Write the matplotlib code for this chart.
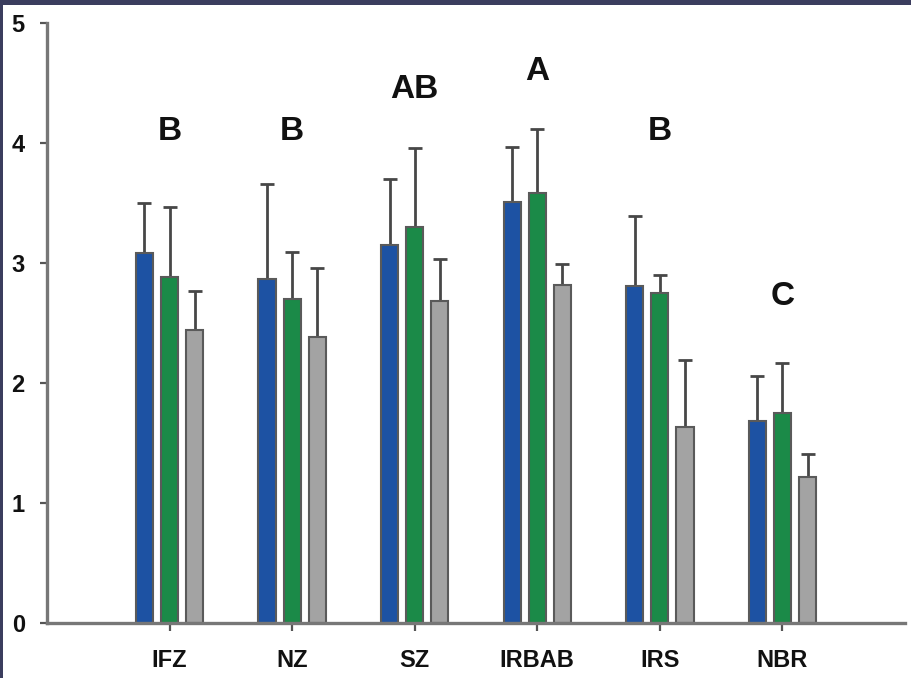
import numpy as np
import matplotlib.pyplot as plt
from matplotlib.patches import Rectangle

plt.rcParams['font.family'] = ['Liberation Sans', 'DejaVu Sans']

# Sites and the three series (means and upper error bar tips)
sites = ['IFZ', 'NZ', 'SZ', 'IRBAB', 'IRS', 'NBR']
blue_vals = [3.08, 2.87, 3.15, 3.51, 2.81, 1.68]
blue_tops = [3.50, 3.66, 3.70, 3.97, 3.39, 2.06]
green_vals = [2.88, 2.70, 3.30, 3.58, 2.75, 1.75]
green_tops = [3.47, 3.09, 3.96, 4.12, 2.90, 2.17]
gray_vals = [2.44, 2.38, 2.68, 2.82, 1.63, 1.22]
gray_tops = [2.77, 2.96, 3.03, 2.99, 2.19, 1.41]

# Significance letters
letters = ['B', 'B', 'AB', 'A', 'B', 'C']
letter_y = [4.10, 4.10, 4.45, 4.60, 4.10, 2.72]

fig = plt.figure(figsize=(9.12, 6.78), dpi=100)
fig.patch.set_facecolor('#3b3d5e')
# white page inside the dark frame
fig.patches.append(Rectangle((3 / 912, 0), 1, 1 - 5 / 678, transform=fig.transFigure,
                             facecolor='white', edgecolor='none', zorder=-5))

ax = fig.add_axes([47 / 912, 55 / 678, 858 / 912, 600 / 678])
ax.set_facecolor('white')

x = np.arange(len(sites))
w = 0.139
off = 0.205
series = [
    (blue_vals, blue_tops, '#1d52a3'),
    (green_vals, green_tops, '#1b8a48'),
    (gray_vals, gray_tops, '#a3a3a3'),
]
for k, (vals, tops, col) in enumerate(series):
    pos = x + (k - 1) * off
    vals = np.array(vals)
    err = np.array(tops) - vals
    ax.bar(pos, vals, width=w, color=col, edgecolor='#5a5a5a', linewidth=1.5, zorder=2)
    ax.errorbar(pos, vals, yerr=[np.zeros_like(err), err], fmt='none',
                ecolor='#474747', elinewidth=2.0, capsize=5, capthick=2.0, zorder=1)

for xi, lab, ly in zip(x, letters, letter_y):
    ax.text(xi, ly, lab, ha='center', va='center', fontsize=24, fontweight='bold', color='#111111')

ax.set_xlim(-1.0, 6.0)
ax.set_ylim(0, 5)
ax.set_yticks([0, 1, 2, 3, 4, 5])
ax.set_xticks(x)
ax.set_xticklabels(sites)

for s in ['top', 'right']:
    ax.spines[s].set_visible(False)
for s in ['left', 'bottom']:
    ax.spines[s].set_color('#777777')
    ax.spines[s].set_linewidth(2.4)

ax.tick_params(axis='y', length=5, width=1.6, color='#555555', pad=11, labelsize=17, labelcolor='#111111')
ax.tick_params(axis='x', length=6, width=1.6, color='#555555', pad=13, labelsize=17, labelcolor='#111111')
for t in ax.get_xticklabels() + ax.get_yticklabels():
    t.set_fontweight('bold')

fig.savefig('out.png', dpi=100, facecolor=fig.get_facecolor())
